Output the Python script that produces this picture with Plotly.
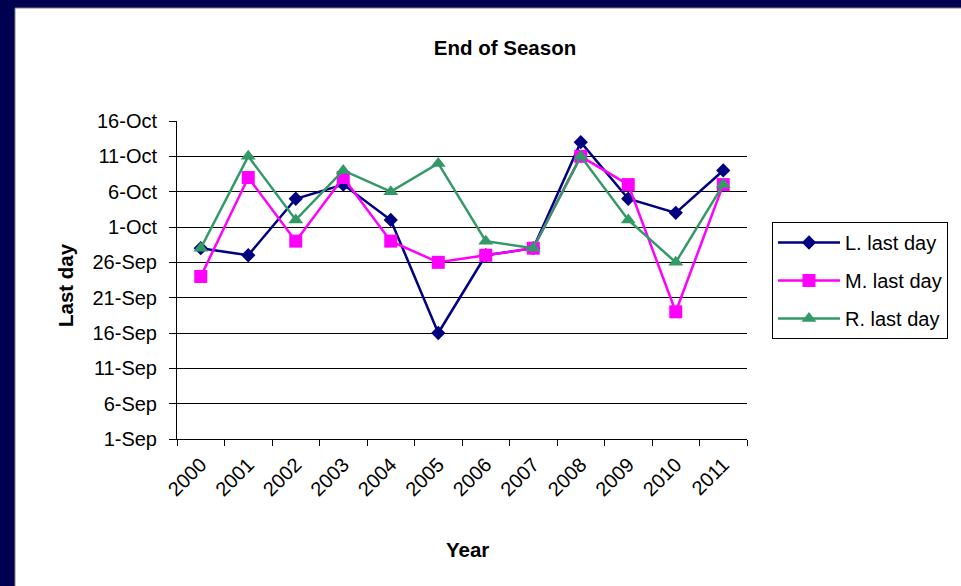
import plotly.graph_objects as go

# ---- data ----
years = ["2000", "2001", "2002", "2003", "2004", "2005",
         "2006", "2007", "2008", "2009", "2010", "2011"]
L_last = ["2000-09-28", "2000-09-27", "2000-10-05", "2000-10-07", "2000-10-02", "2000-09-16",
          "2000-09-27", "2000-09-28", "2000-10-13", "2000-10-05", "2000-10-03", "2000-10-09"]
M_last = ["2000-09-24", "2000-10-08", "2000-09-29", "2000-10-08", "2000-09-29", "2000-09-26",
          "2000-09-27", "2000-09-28", "2000-10-11", "2000-10-07", "2000-09-19", "2000-10-07"]
R_last = ["2000-09-28", "2000-10-11", "2000-10-02", "2000-10-09", "2000-10-06", "2000-10-10",
          "2000-09-29", "2000-09-28", "2000-10-11", "2000-10-02", "2000-09-26", "2000-10-07"]
tick_dates = ["2000-09-01", "2000-09-06", "2000-09-11", "2000-09-16", "2000-09-21",
              "2000-09-26", "2000-10-01", "2000-10-06", "2000-10-11", "2000-10-16"]
tick_labels = ["1-Sep", "6-Sep", "11-Sep", "16-Sep", "21-Sep",
               "26-Sep", "1-Oct", "6-Oct", "11-Oct", "16-Oct"]
series_names = ["L. last day", "M. last day", "R. last day"]

FONT = "Arial, 'Liberation Sans', sans-serif"

W, H = 961, 586
L_M, R_M, T_M, B_M = 177, 214, 121, 147
PW, PH = W - L_M - R_M, H - T_M - B_M


def px_x(px):
    return (px - L_M) / PW


def px_y(py):
    return 1 - (py - T_M) / PH


fig = go.Figure()
styles = [
    dict(color="#000080", symbol="diamond", size=11),
    dict(color="#FF00FF", symbol="square", size=13),
    dict(color="#339966", symbol="triangle-up", size=13),
]
for i, (name, vals, st) in enumerate(zip(series_names, [L_last, M_last, R_last], styles)):
    fig.add_trace(go.Scatter(
        x=years, y=vals, name=name, mode="lines+markers",
        line=dict(color=st["color"], width=2.5),
        marker=dict(color=st["color"], symbol=st["symbol"], size=st["size"],
                    line=dict(width=0)),
        legendgroup=f"g{i}",
    ))

fig.update_layout(
    width=W, height=H, autosize=False,
    margin=dict(l=L_M, r=R_M, t=T_M, b=B_M, pad=0),
    paper_bgcolor="#000050",
    plot_bgcolor="white",
    font=dict(family=FONT, color="#000000", size=20),
    title=dict(text="<b>End of Season</b>", x=505 / W, xanchor="center",
               y=1 - 48 / H, yanchor="middle", yref="container",
               font=dict(family=FONT, size=20.5, color="#000000")),
    showlegend=True,
    legend=dict(x=px_x(772), y=px_y(222), xanchor="left", yanchor="top",
                bordercolor="#000000", borderwidth=1, bgcolor="white",
                font=dict(family=FONT, size=20, color="#000000"),
                tracegroupgap=9, itemwidth=62),
    xaxis=dict(type="category", range=[-0.5, 11.5], autorange=False,
               showgrid=False, showline=True, linecolor="#000000",
               linewidth=1, ticks="outside", ticklen=6, tickcolor="#000000",
               tickson="boundaries", tickangle=-45, ticklabelstandoff=5,
               tickfont=dict(family=FONT, size=20, color="#000000"),
               zeroline=False, fixedrange=True),
    yaxis=dict(type="date", range=[tick_dates[0], tick_dates[-1]],
               tickvals=tick_dates, ticktext=tick_labels,
               showgrid=True, gridcolor="#000000", gridwidth=1,
               showline=True, linecolor="#000000", linewidth=1,
               ticks="outside", ticklen=7, tickcolor="#000000",
               ticklabelstandoff=8,
               tickfont=dict(family=FONT, size=20, color="#000000"),
               zeroline=False, fixedrange=True),
    shapes=[dict(type="rect", xref="paper", yref="paper", layer="below",
                 x0=px_x(15), x1=px_x(975), y0=px_y(600), y1=px_y(8),
                 fillcolor="white", line=dict(color="#808080", width=1))],
    annotations=[
        dict(text="<b>Last day</b>", xref="paper", yref="paper",
             x=px_x(65), y=px_y(285), xanchor="center", yanchor="middle",
             textangle=-90, showarrow=False,
             font=dict(family=FONT, size=20.5, color="#000000")),
        dict(text="<b>Year</b>", xref="paper", yref="paper",
             x=px_x(467), y=px_y(549), xanchor="center", yanchor="middle",
             showarrow=False,
             font=dict(family=FONT, size=20.5, color="#000000")),
    ],
)

fig.write_html("out.html")
